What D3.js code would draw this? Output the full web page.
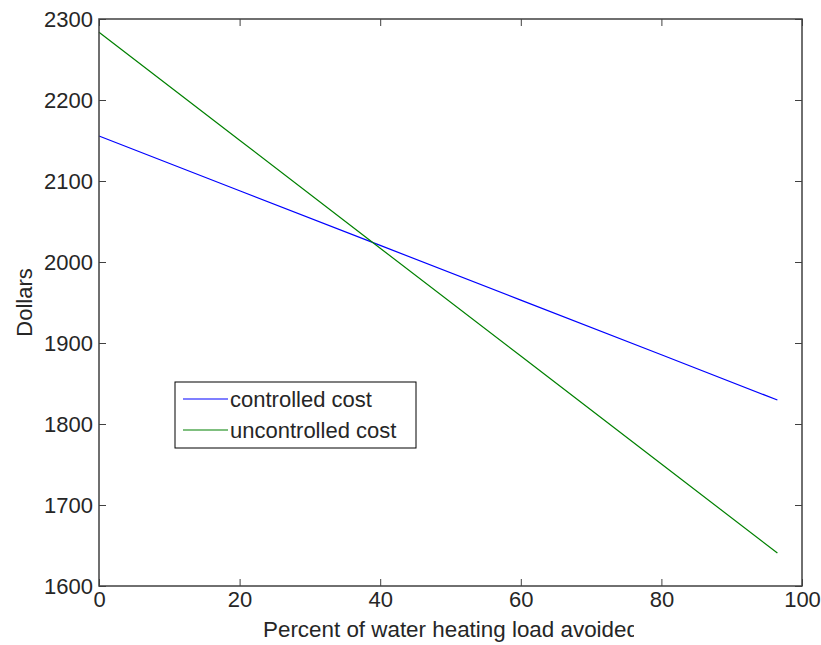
<!DOCTYPE html>
<html>
<head>
<meta charset="utf-8">
<script src="https://cdn.jsdelivr.net/npm/d3@7/dist/d3.min.js"></script>
<style>
  body { margin: 0; background: #fff; }
  text { font-family: "Liberation Sans", Arial, sans-serif; fill: #262626; }
</style>
</head>
<body>
<div id="chart"></div>
<script>
// values
const percentAvoided = [0, 20, 40, 60, 80, 96.5];
const controlledCost = [2155.6, 2088, 2020.5, 1953, 1885.5, 1829.6];
const uncontrolledCost = [2283.6, 2150.4, 2017, 1883.9, 1750.6, 1640.7];
const xTicks = [0, 20, 40, 60, 80, 100];
const yTicks = [1600, 1700, 1800, 1900, 2000, 2100, 2200, 2300];
const seriesNames = ["controlled cost", "uncontrolled cost"];
const seriesColors = ["#0000ff", "#008000"];

const width = 821, height = 645;
const margin = { top: 19, right: 19, bottom: 59, left: 99 };
const innerW = width - margin.left - margin.right;
const innerH = height - margin.top - margin.bottom;

const svg = d3.select("#chart")
  .append("svg")
  .attr("width", width)
  .attr("height", height);

const g = svg.append("g")
  .attr("transform", "translate(" + margin.left + "," + margin.top + ")");

const x = d3.scaleLinear().domain([0, 100]).range([0, innerW]);
const y = d3.scaleLinear().domain([1600, 2300]).range([innerH, 0]);

// lines
const series = [controlledCost, uncontrolledCost];
const line = d3.line()
  .x((d, i) => x(percentAvoided[i]))
  .y(d => y(d));

series.forEach((vals, k) => {
  g.append("path")
    .datum(vals)
    .attr("fill", "none")
    .attr("stroke", seriesColors[k])
    .attr("stroke-width", 1.2)
    .attr("d", line);
});

// axes (ticks inward, on all four sides, like matlab)
const axisColor = "#404040";
const fmt = d3.format("d");
const styleAxis = sel => {
  sel.select(".domain").remove();
  sel.selectAll(".tick line").attr("stroke", axisColor);
  sel.selectAll(".tick text")
    .style("font-size", "22px")
    .attr("fill", "#262626");
};

g.append("g")
  .attr("transform", "translate(0," + innerH + ")")
  .call(d3.axisBottom(x).tickValues(xTicks).tickFormat(fmt).tickSizeInner(-7).tickSizeOuter(0).tickPadding(5))
  .call(styleAxis);

g.append("g")
  .call(d3.axisTop(x).tickValues(xTicks).tickSizeInner(-7).tickSizeOuter(0).tickFormat(""))
  .call(styleAxis);

g.append("g")
  .call(d3.axisLeft(y).tickValues(yTicks).tickFormat(fmt).tickSizeInner(-7).tickSizeOuter(0).tickPadding(6))
  .call(styleAxis);

g.append("g")
  .attr("transform", "translate(" + innerW + ",0)")
  .call(d3.axisRight(y).tickValues(yTicks).tickSizeInner(-7).tickSizeOuter(0).tickFormat(""))
  .call(styleAxis);

// box
g.append("rect")
  .attr("x", 0).attr("y", 0)
  .attr("width", innerW).attr("height", innerH)
  .attr("fill", "none")
  .attr("stroke", axisColor)
  .attr("stroke-width", 1.5);

// axis labels (the x label is cut off at the right in the original)
svg.append("clipPath").attr("id", "xlabClip")
  .append("rect").attr("x", 0).attr("y", 612).attr("width", 634).attr("height", 33);

svg.append("text")
  .attr("clip-path", "url(#xlabClip)")
  .attr("x", 263)
  .attr("y", 637)
  .style("font-size", "22.4px")
  .text("Percent of water heating load avoided");

svg.append("text")
  .attr("transform", "translate(32," + (margin.top + innerH / 2) + ") rotate(-90)")
  .attr("text-anchor", "middle")
  .style("font-size", "22px")
  .text("Dollars");

// legend
const legend = svg.append("g").attr("transform", "translate(175,382)");
legend.append("rect")
  .attr("width", 241).attr("height", 66)
  .attr("fill", "#fff")
  .attr("stroke", "#000")
  .attr("stroke-width", 1);

seriesNames.forEach((name, k) => {
  const ly = 17 + k * 31;
  legend.append("line")
    .attr("x1", 8).attr("x2", 53)
    .attr("y1", ly).attr("y2", ly)
    .attr("stroke", seriesColors[k])
    .attr("stroke-width", 1.2);
  legend.append("text")
    .attr("x", 55).attr("y", ly + 8)
    .style("font-size", "22px")
    .text(name);
});
</script>
</body>
</html>
